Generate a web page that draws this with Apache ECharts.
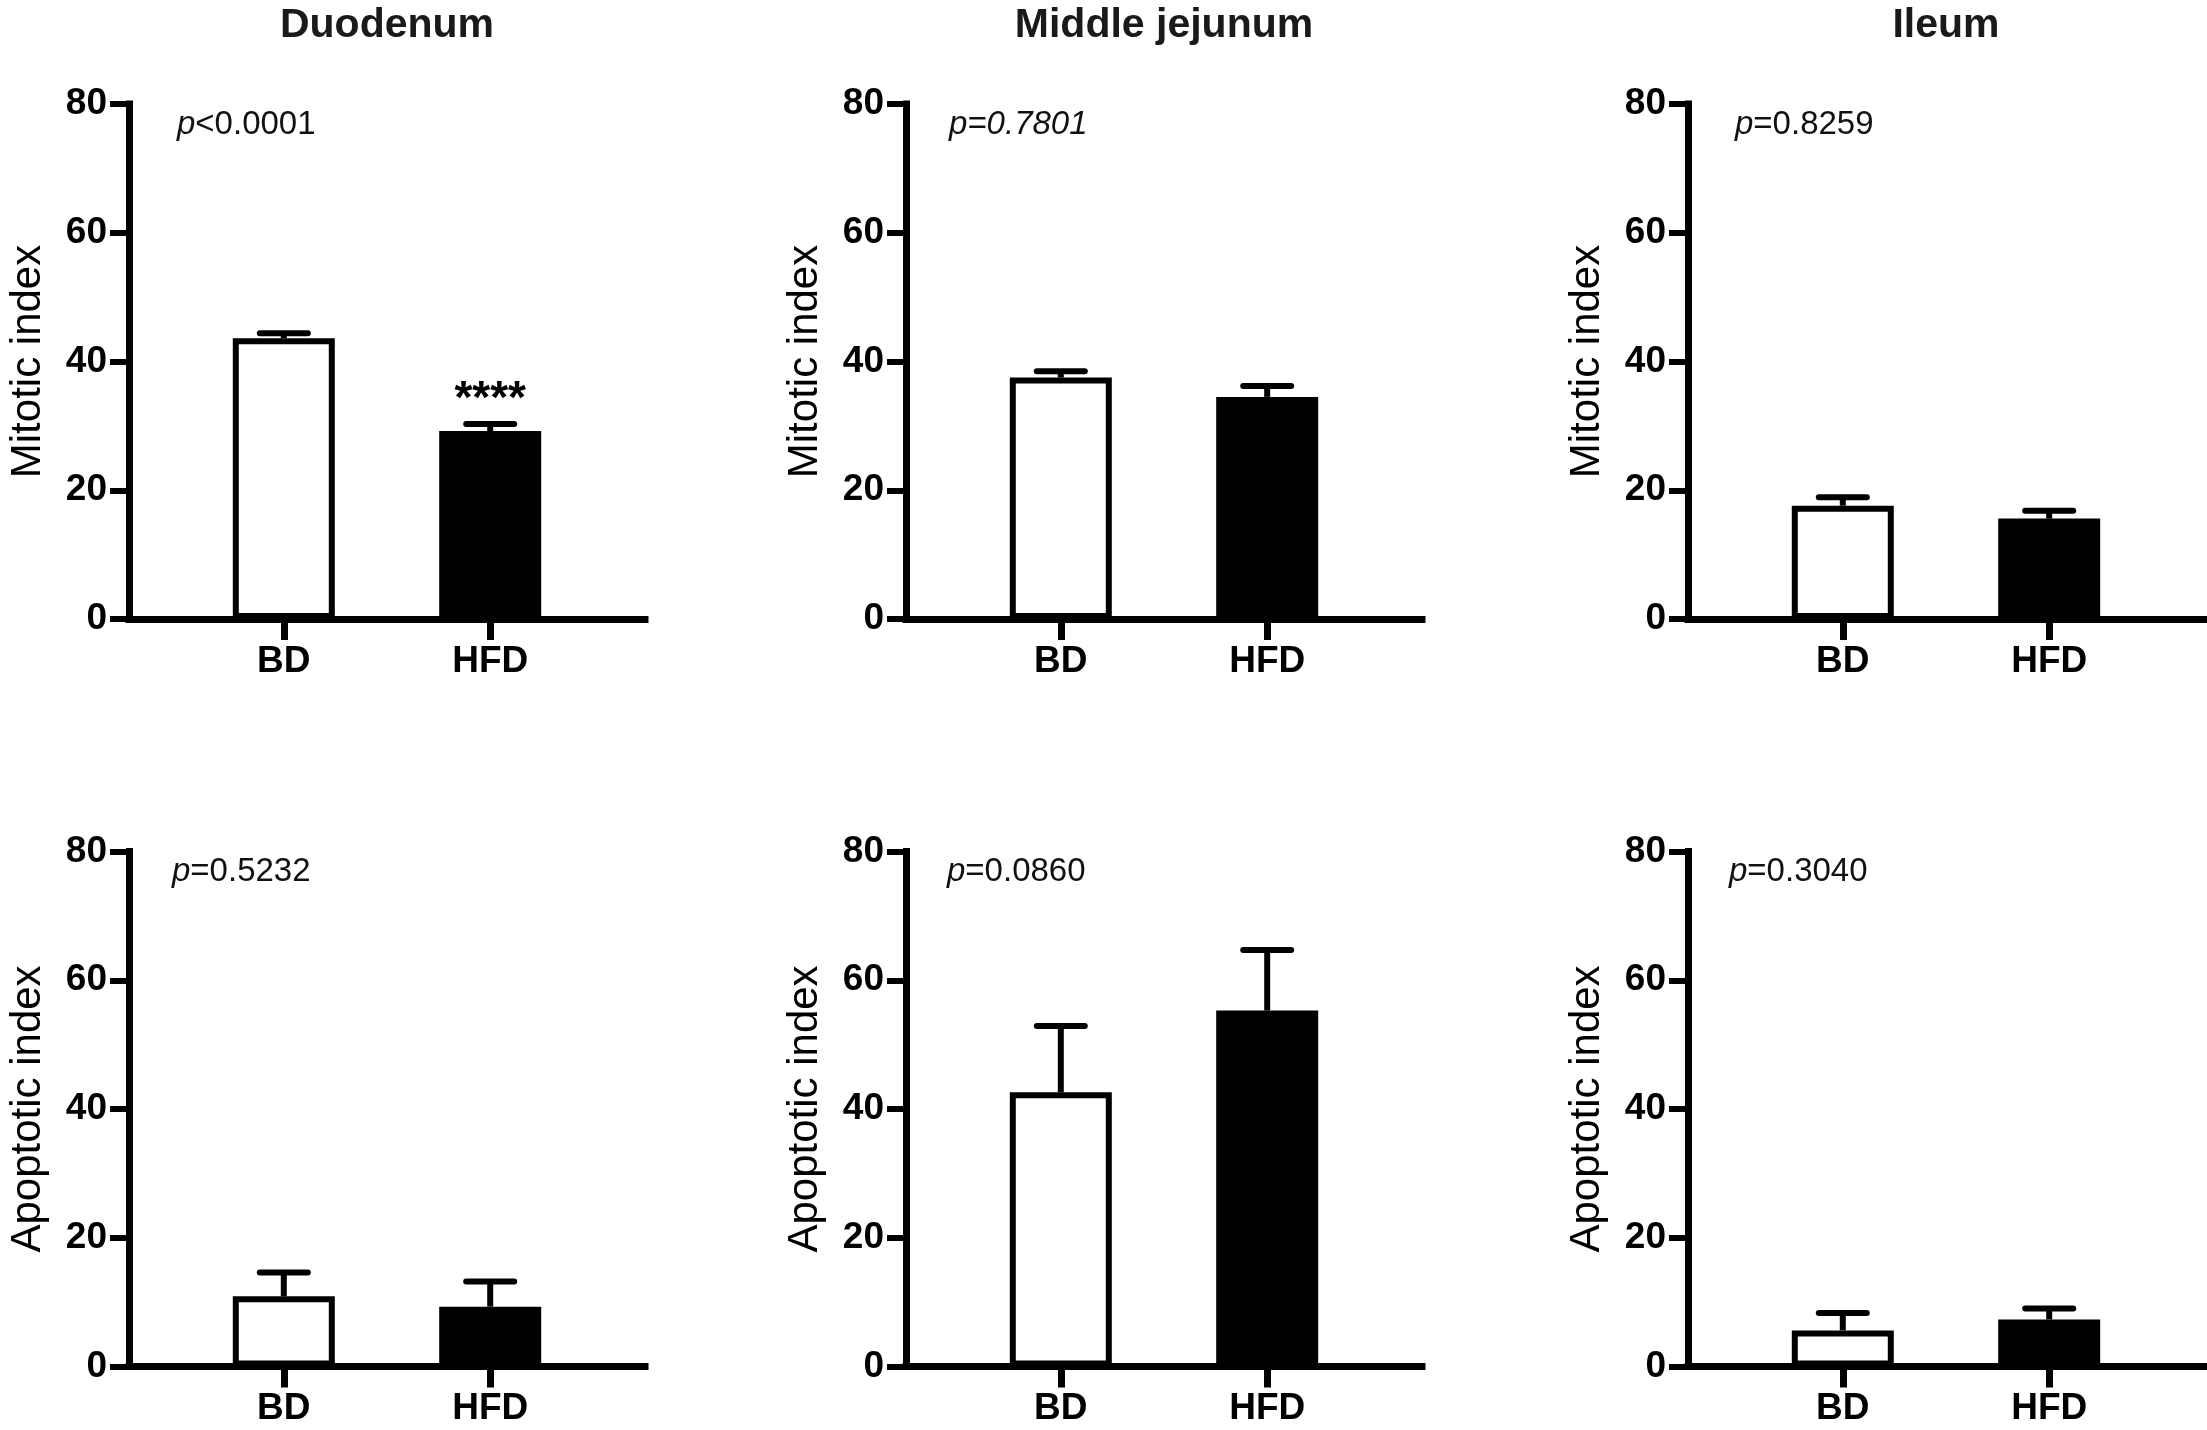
<!DOCTYPE html>
<html>
<head>
<meta charset="utf-8">
<style>
html,body{margin:0;padding:0;background:#fff;}
#chart{width:2207px;height:1430px;}
</style>
<script src="https://cdn.jsdelivr.net/npm/echarts@6/dist/echarts.min.js"></script>
</head>
<body>
<div id="chart"></div>
<script>
// ---- data ----
const groups = ['BD', 'HFD'];
const regions = ['Duodenum', 'Middle jejunum', 'Ileum'];
const yNames = ['Mitotic index', 'Apoptotic index'];
const yTicks = [0, 20, 40, 60, 80];
// per region: [BD, HFD]
const mitoticMean = [[43.6, 29.2], [37.5, 34.5], [17.6, 15.6]];
const mitoticSem  = [[0.8, 1.1], [1.0, 1.7], [1.3, 1.2]];
const apoptoticMean = [[10.9, 9.3], [42.6, 55.3], [5.6, 7.3]];
const apoptoticSem  = [[3.7, 3.9], [10.3, 9.4], [2.7, 1.7]];
const mitoticP = ['<0.0001', '=0.7801', '=0.8259'];
const apoptoticP = ['=0.5232', '=0.0860', '=0.3040'];
const mitoticStars = [['', '****'], ['', ''], ['', '']];
const apoptoticStars = [['', ''], ['', ''], ['', '']];
const pAllItalic = [[false, true, false], [false, false, false]];

// ---- layout ----
const FONT = '"Liberation Sans", Arial, Helvetica, sans-serif';
const colLeft = [129, 906, 1688];
const gridW = 516;
const rowTop = [104, 851.5];
const gridH = 515;
const pOffset = [[48, 43, 47], [43, 41, 41]];

const chart = echarts.init(document.getElementById('chart'));

const grids = [], xAxes = [], yAxes = [], series = [], graphics = [];
const means = [mitoticMean, apoptoticMean];
const sems = [mitoticSem, apoptoticSem];
const pvals = [mitoticP, apoptoticP];
const stars = [mitoticStars, apoptoticStars];

function makeRender(starArr) {
  return function (params, api) {
    const x = api.value(0), m = api.value(1), e = api.value(2);
    const base = api.coord([x, m]);
    const top = api.coord([x, m + e]);
    const hw = 24;
    const children = [
      {type: 'line', shape: {x1: base[0], y1: base[1], x2: top[0], y2: top[1]},
       style: {stroke: '#000', lineWidth: 6}},
      {type: 'line', shape: {x1: top[0] - hw, y1: top[1], x2: top[0] + hw, y2: top[1]},
       style: {stroke: '#000', lineWidth: 6, lineCap: 'round'}}
    ];
    const s = starArr[params.dataIndex];
    if (s) {
      children.push({type: 'text', style: {text: s, x: top[0], y: top[1] - 24,
        align: 'center', verticalAlign: 'middle', fill: '#000',
        font: 'bold 46px ' + FONT}});
    }
    return {type: 'group', children: children};
  };
}

let idx = 0;
for (let r = 0; r < 2; r++) {
  for (let c = 0; c < 3; c++) {
    grids.push({left: colLeft[c], top: rowTop[r], width: gridW, height: gridH,
      containLabel: false, outerBoundsMode: 'none'});
    xAxes.push({
      gridIndex: idx, type: 'value', min: 0.25, max: 2.75,
      axisLine: {show: true, onZero: false, lineStyle: {color: '#000', width: 7, cap: 'square'}},
      axisTick: {show: true, customValues: [1, 2], length: 21, lineStyle: {color: '#000', width: 7}},
      axisLabel: {show: true, customValues: [1, 2], margin: 24,
        formatter: function (v) { return groups[Math.round(v) - 1] || ''; },
        color: '#000', fontFamily: FONT, fontWeight: 'bold', fontSize: 37},
      splitLine: {show: false}
    });
    yAxes.push({
      gridIndex: idx, type: 'value', min: yTicks[0], max: yTicks[yTicks.length - 1], interval: 20,
      name: yNames[r], nameLocation: 'middle', nameGap: 80, nameRotate: 90,
      nameTextStyle: {color: '#000', fontFamily: FONT, fontSize: 42, fontWeight: 'normal'},
      axisLine: {show: true, lineStyle: {color: '#000', width: 7, cap: 'square'}},
      axisTick: {show: true, length: 19, lineStyle: {color: '#000', width: 6}},
      axisLabel: {margin: 22, color: '#000', fontFamily: FONT, fontWeight: 'bold', fontSize: 37},
      splitLine: {show: false}
    });
    const m = means[r][c], e = sems[r][c];
    series.push({
      type: 'bar', xAxisIndex: idx, yAxisIndex: idx, barWidth: 102,
      silent: true, animation: false,
      data: groups.map(function (g, i) {
        return {value: [i + 1, m[i]], itemStyle: {
          color: i === 0 ? '#fff' : '#000', borderColor: '#000', borderWidth: 6}};
      })
    });
    series.push({
      type: 'custom', xAxisIndex: idx, yAxisIndex: idx, silent: true, animation: false,
      encode: {x: 0, y: 1}, z: 5,
      renderItem: makeRender(stars[r][c]),
      data: groups.map(function (g, i) { return [i + 1, m[i], e[i]]; })
    });
    // p-value annotation
    const italicAll = pAllItalic[r][c];
    graphics.push({
      type: 'text', left: colLeft[c] + pOffset[r][c], top: rowTop[r] + 4,
      style: {
        text: italicAll ? '{a|p' + pvals[r][c] + '}' : '{i|p}{n|' + pvals[r][c] + '}',
        rich: {
          a: {fontFamily: FONT, fontSize: 33, fontStyle: 'italic', fill: '#111', color: '#111'},
          i: {fontFamily: FONT, fontSize: 33, fontStyle: 'italic', fill: '#111', color: '#111'},
          n: {fontFamily: FONT, fontSize: 33, fill: '#111', color: '#111'}
        }
      }
    });
    idx++;
  }
}
// region titles
for (let c = 0; c < 3; c++) {
  graphics.push({
    type: 'text', x: colLeft[c] + gridW / 2, y: 26,
    style: {text: regions[c], align: 'center', verticalAlign: 'middle',
      font: 'bold 41px ' + FONT, fill: '#1a1a1a'}
  });
}

chart.setOption({
  backgroundColor: '#fff',
  animation: false,
  grid: grids, xAxis: xAxes, yAxis: yAxes, series: series, graphic: graphics
});
</script>
</body>
</html>
